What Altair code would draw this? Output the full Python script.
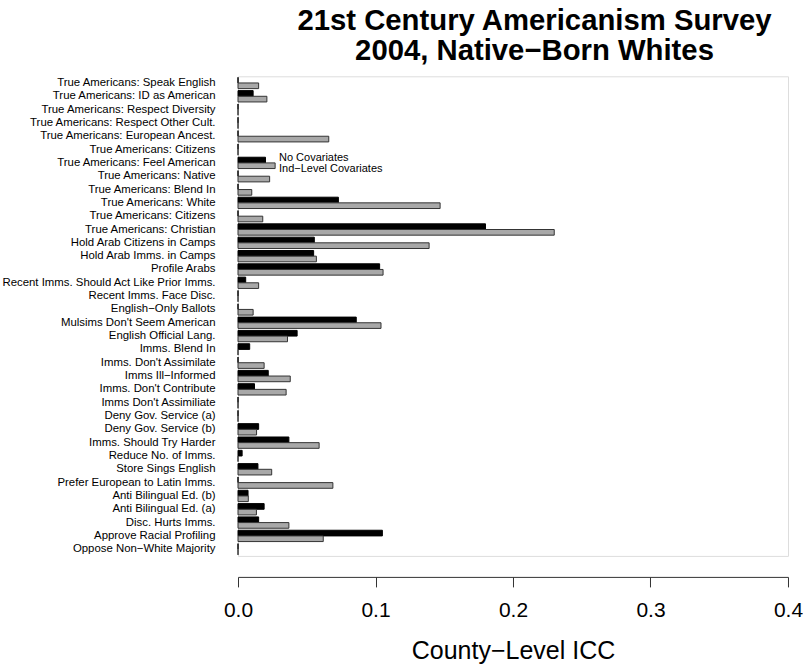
import json

import altair as alt
import pandas as pd

# Survey items, top to bottom
items = [
    "True Americans: Speak English",
    "True Americans: ID as American",
    "True Americans: Respect Diversity",
    "True Americans: Respect Other Cult.",
    "True Americans: European Ancest.",
    "True Americans: Citizens",
    "True Americans: Feel American",
    "True Americans: Native",
    "True Americans: Blend In",
    "True Americans: White",
    "True Americans: Citizens",
    "True Americans: Christian",
    "Hold Arab Citizens in Camps",
    "Hold Arab Imms. in Camps",
    "Profile Arabs",
    "Recent Imms. Should Act Like Prior Imms.",
    "Recent Imms. Face Disc.",
    "English\u2212Only Ballots",
    "Mulsims Don't Seem American",
    "English Official Lang.",
    "Imms. Blend In",
    "Imms. Don't Assimilate",
    "Imms Ill\u2212Informed",
    "Imms. Don't Contribute",
    "Imms Don't Assimiliate",
    "Deny Gov. Service (a)",
    "Deny Gov. Service (b)",
    "Imms. Should Try Harder",
    "Reduce No. of Imms.",
    "Store Sings English",
    "Prefer European to Latin Imms.",
    "Anti Bilingual Ed. (b)",
    "Anti Bilingual Ed. (a)",
    "Disc. Hurts Imms.",
    "Approve Racial Profiling",
    "Oppose Non\u2212White Majority",
]

# County-level ICC, model without covariates
no_covariates = [
    0.0, 0.011, 0.0, 0.0, 0.0, 0.0, 0.020, 0.0, 0.0, 0.073, 0.0, 0.180,
    0.0555, 0.055, 0.103, 0.0056, 0.0, 0.0, 0.086, 0.043, 0.0085, 0.0,
    0.022, 0.012, 0.0, 0.0, 0.015, 0.037, 0.003, 0.0145, 0.0, 0.0073,
    0.019, 0.015, 0.105, 0.0,
]

# County-level ICC, model with individual-level covariates
ind_covariates = [
    0.015, 0.021, 0.0, 0.0, 0.066, 0.0, 0.027, 0.023, 0.010, 0.147, 0.018,
    0.230, 0.139, 0.057, 0.1055, 0.015, 0.0, 0.011, 0.104, 0.036, 0.0,
    0.019, 0.038, 0.035, 0.0, 0.0, 0.0135, 0.059, 0.0, 0.0245, 0.069,
    0.0075, 0.0134, 0.037, 0.062, 0.0,
]

series_names = ["No Covariates", "Ind\u2212Level Covariates"]

records = []
for i, label in enumerate(items):
    records.append({"row": i, "item": label, "series": series_names[0], "icc": no_covariates[i]})
    records.append({"row": i, "item": label, "series": series_names[1], "icc": ind_covariates[i]})
df = pd.DataFrame(records)

# Some item names repeat, so rows are keyed by position and labelled here
label_expr = json.dumps(items, ensure_ascii=False) + "[datum.value]"

FONT = "Liberation Sans"

chart = (
    alt.Chart(df)
    .mark_bar(strokeWidth=1)
    .encode(
        x=alt.X(
            "icc:Q",
            scale=alt.Scale(domain=[0, 0.4], nice=False, zero=True),
            axis=alt.Axis(
                values=[0, 0.1, 0.2, 0.3, 0.4],
                format=".1f",
                grid=False,
                offset=21,
                tickSize=10,
                tickColor="#333333",
                domainColor="#333333",
                labelFontSize=21,
                labelColor="black",
                labelPadding=13,
                labelFlush=False,
                labelFont=FONT,
                title="County\u2212Level ICC",
                titleFont=FONT,
                titleFontSize=25,
                titleFontWeight="normal",
                titleColor="black",
                titlePadding=18,
            ),
        ),
        y=alt.Y(
            "row:O",
            scale=alt.Scale(paddingInner=0.15, paddingOuter=0.075),
            axis=alt.Axis(
                title=None,
                ticks=False,
                domain=False,
                labelExpr=label_expr,
                labelFont=FONT,
                labelFontSize=11.4,
                labelColor="black",
                labelPadding=23,
                labelLimit=0,
            ),
        ),
        yOffset=alt.YOffset("series:N", sort=series_names),
        fill=alt.Fill(
            "series:N",
            sort=series_names,
            scale=alt.Scale(domain=series_names, range=["#000000", "#a8a8a8"]),
            legend=alt.Legend(
                title=None,
                orient="none",
                legendX=30,
                legendY=76,
                symbolSize=0,
                symbolStrokeWidth=0,
                labelOffset=0,
                labelFont=FONT,
                labelFontSize=11,
                labelColor="black",
                rowPadding=-2.4,
                padding=0,
            ),
        ),
        stroke=alt.Stroke(
            "series:N",
            scale=alt.Scale(domain=series_names, range=["#000000", "#333333"]),
            legend=None,
        ),
    )
    .properties(
        width=550,
        height=479.6,
        autosize=alt.AutoSizeParams(type="none"),
        padding={"left": 238, "top": 76.3, "right": 15, "bottom": 113},
        title=alt.TitleParams(
            text=["21st Century Americanism Survey", "2004, Native\u2212Born Whites"],
            font=FONT,
            fontSize=29.3,
            fontWeight="bold",
            color="black",
            anchor="middle",
            dx=21.5,
            offset=10,
            lineHeight=30,
        ),
    )
    .configure_view(strokeWidth=0)
    .configure(background="white")
)

chart.save("out.html", embed_options={"renderer": "svg", "actions": False})
